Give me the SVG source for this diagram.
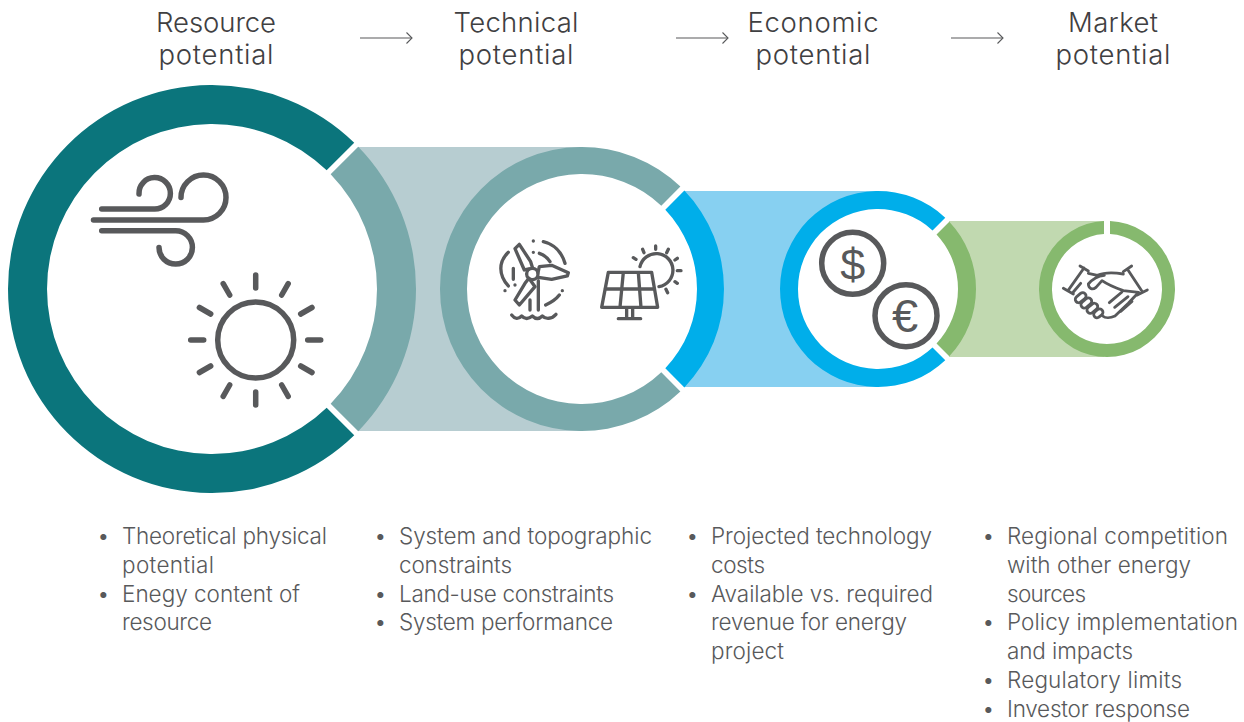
<svg xmlns="http://www.w3.org/2000/svg" width="1244" height="722" viewBox="0 0 1244 722">
<style>
.h{font-family:"Inter","Liberation Sans",sans-serif;font-weight:300;font-size:27.5px;fill:#3f4042;text-anchor:middle}
.b{font-family:"Inter","Liberation Sans",sans-serif;font-weight:300;font-size:22.5px;fill:#58595b}
.i{fill:none;stroke:#58595b;stroke-linecap:round;stroke-linejoin:round}
.a{fill:none;stroke:#58595b;stroke-width:1.1}
.g{font-family:"Liberation Sans",sans-serif;fill:#58595b;text-anchor:middle}
</style>
<defs>
<marker id="open" markerUnits="userSpaceOnUse" markerWidth="10" markerHeight="14" refX="8" refY="7" orient="auto"><path d="M2.500 1.500L8 7L2.500 12.500" fill="none" stroke="#58595b" stroke-width="1.100"/></marker>
</defs>
<rect width="1244" height="722" fill="#fff"/>
<g id="bands">
<rect x="358" y="147" width="224" height="284" fill="#b7cdd1"/>
<rect x="684" y="191" width="194" height="196" fill="#87d0f1"/>
<rect x="949" y="221" width="155" height="136" fill="#c1d9b0"/>
</g>
<g id="node-resource">
<circle cx="212" cy="289" r="166" fill="#fff"/>
<path d="M354.240 142.760A204 204 0 1 0 354.240 435.240L326.660 407.660A165 165 0 1 1 326.660 170.340Z" fill="#0b757c"/>
<path d="M358.240 146.760A204 204 0 0 1 358.240 431.240L330.660 403.660A165 165 0 0 0 330.660 174.340Z" fill="#79a9ab"/>
<g class="i" stroke-width="5.500">
<path d="M93.500 220H203.500A22.500 22.500 0 1 0 181 197.500"/>
<path d="M101.700 209H154.500A15.700 15.700 0 1 0 139 194"/>
<path d="M101.700 230.700H175.700A16.700 16.700 0 1 1 159 247.400"/>
<circle cx="255.700" cy="340" r="38"/>
<path d="M255.700 288V275M281.700 295L288.200 283.700M300.700 314L312 307.500M307.700 340H320.700M300.700 366L312 372.500M281.700 385L288.200 396.300M255.700 392V405M229.700 385L223.200 396.300M210.700 366L199.400 372.500M203.700 340H190.700M210.700 314L199.400 307.500M229.700 295L223.200 283.700"/>
</g>
</g>
<g id="node-technical">
<circle cx="582" cy="289" r="116" fill="#fff"/>
<path d="M680.380 186.620A142 142 0 1 0 680.380 391.380L661.290 372.290A115 115 0 1 1 661.290 205.710Z" fill="#79a9ab"/>
<path d="M684.380 190.620A142 142 0 0 1 684.380 387.380L665.290 368.290A115 115 0 0 0 665.290 209.710Z" fill="#00aeea"/>
<g class="i" stroke-width="10" transform="translate(480 220) scale(.3333)">
<circle cx="157" cy="162" r="17"/>
<path d="M147 147L133 150L105 86L118 73L152 125L158 145M174 158L178 140L215 136L265 158L262 168L215 178L175 172M147 175L165 200L118 255L105 240L135 190L145 177"/>
<path d="M150 240V270M175 182V270"/>
<path d="M95 285C105 298 115 298 125 288C135 298 145 298 157 288C167 298 177 298 187 288C197 298 215 298 228 283"/>
<path d="M190 65C220 72 245 95 255 130M178 100C192 105 202 112 210 125M85 97C55 125 55 165 85 198M100 145L100 178M197 255C212 248 228 238 238 225"/>
<path d="M160 63h.01M160 97h.01M75 212h.01M105 195h.01M247 212h.01"/>
<path d="M385 157H515L533 262H365ZM375 207H523M430 157L420 262M475 157L483 262M440 265V295M458 265V295M415 296H482"/>
<path d="M480 140A50 50 0 1 1 537 200"/>
<path d="M468 118L460 113M492 98L488 88M527 88V78M560 98L565 88M585 120L592 115M592 152H603M585 185L592 190M558 208L563 218"/>
</g>
</g>
<g id="node-economic">
<circle cx="878" cy="289" r="81" fill="#fff"/>
<path d="M945.270 217.730A98 98 0 1 0 945.270 360.270L932.530 347.530A80 80 0 1 1 932.530 230.470Z" fill="#00aeea"/>
<path d="M949.270 221.730A98 98 0 0 1 949.270 356.270L936.530 343.530A80 80 0 0 0 936.530 234.470Z" fill="#86b96e"/>
<g class="i" stroke-width="5.500">
<circle cx="852.700" cy="263.300" r="31"/>
<circle cx="906" cy="315.700" r="31"/>
</g>
<text class="g" x="852.700" y="279.500" font-size="45">$</text>
<text class="g" x="905" y="332" font-size="47">€</text>
</g>
<g id="node-market">
<circle cx="1107" cy="289" r="56" fill="#fff"/>
<path d="M1104 221.070A68 68 0 1 0 1110 221.070L1110 234.080A55 55 0 1 1 1104 234.080Z" fill="#86b96e"/>
<g class="i" stroke-width="8.500" transform="translate(1060 260) scale(.3333)">
<path d="M60 18L85 33M72 24L24 92M10 85L40 102M190 35L215 18M202 27L248 97M232 105L262 90"/>
<path d="M85 40L112 46C135 36 165 38 190 42M133 46C112 48 95 60 85 72C86 88 98 90 108 82L126 62C145 75 170 85 190 92L236 97L205 130L165 168C150 175 135 174 128 168"/>
<path d="M148 128L186 96M164 142L204 110M182 154L216 124M40 96L62 70"/>
<rect x="-18" y="-10" width="36" height="20" rx="10" transform="translate(62 113) rotate(-40)"/>
<rect x="-18" y="-10" width="36" height="20" rx="10" transform="translate(79 129) rotate(-40)"/>
<rect x="-18" y="-10" width="36" height="20" rx="10" transform="translate(97 145) rotate(-40)"/>
<rect x="-15" y="-10" width="30" height="20" rx="10" transform="translate(115 160) rotate(-40)"/>
</g>
</g>
<g id="connectors">
<path class="a" d="M360 38H412" marker-end="url(#open)"/>
<path class="a" d="M676 38H728" marker-end="url(#open)"/>
<path class="a" d="M951 38H1003" marker-end="url(#open)"/>
</g>
<g id="headings">
<text class="h" x="216" y="32" textLength="120">Resource</text><text class="h" x="216" y="64" textLength="115">potential</text>
<text class="h" x="516" y="32" textLength="125">Technical</text><text class="h" x="516" y="64" textLength="115">potential</text>
<text class="h" x="813" y="32" textLength="131">Economic</text><text class="h" x="813" y="64" textLength="115">potential</text>
<text class="h" x="1113" y="32" textLength="90">Market</text><text class="h" x="1113" y="64" textLength="115">potential</text>
</g>
<g id="list-resource" class="b">
<text x="97" y="544">•</text><text x="122" y="544" textLength="205">Theoretical physical</text>
<text x="122" y="572.800" textLength="92">potential</text>
<text x="97" y="601.600">•</text><text x="122" y="601.600" textLength="178">Enegy content of</text>
<text x="122" y="630.400" textLength="90">resource</text>
</g>
<g id="list-technical" class="b">
<text x="374" y="544">•</text><text x="399" y="544" textLength="253">System and topographic</text>
<text x="399" y="572.800" textLength="113">constraints</text>
<text x="374" y="601.600">•</text><text x="399" y="601.600" textLength="215">Land-use constraints</text>
<text x="374" y="630.400">•</text><text x="399" y="630.400" textLength="214">System performance</text>
</g>
<g id="list-economic" class="b">
<text x="686" y="544">•</text><text x="711" y="544" textLength="221">Projected technology</text>
<text x="711" y="572.800" textLength="54">costs</text>
<text x="686" y="601.600">•</text><text x="711" y="601.600" textLength="222">Available vs. required</text>
<text x="711" y="630.400" textLength="196">revenue for energy</text>
<text x="711" y="659.200" textLength="73">project</text>
</g>
<g id="list-market" class="b">
<text x="982" y="544">•</text><text x="1007" y="544" textLength="221">Regional competition</text>
<text x="1007" y="572.800" textLength="184">with other energy</text>
<text x="1007" y="601.600" textLength="79">sources</text>
<text x="982" y="630.400">•</text><text x="1007" y="630.400" textLength="231">Policy implementation</text>
<text x="1007" y="659.200" textLength="126">and impacts</text>
<text x="982" y="688">•</text><text x="1007" y="688" textLength="175">Regulatory limits</text>
<text x="982" y="716.800">•</text><text x="1007" y="716.800" textLength="183">Investor response</text>
</g>
</svg>
